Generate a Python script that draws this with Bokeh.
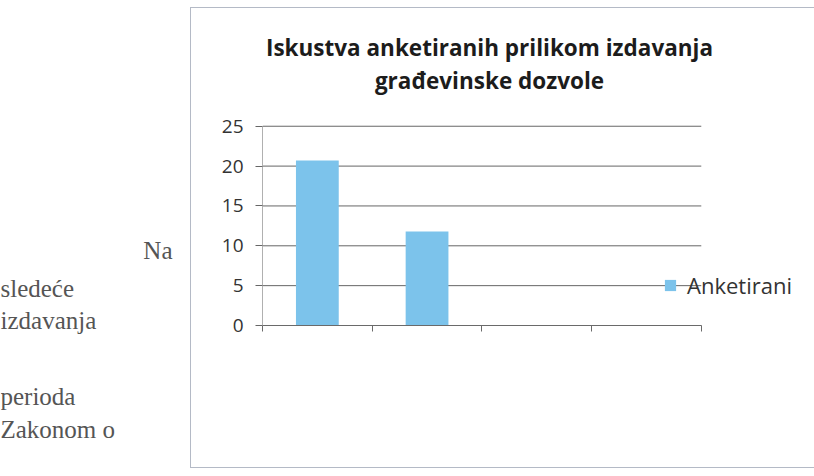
from bokeh.plotting import figure
from bokeh.models import Range1d, FixedTicker, Label, Legend, LegendItem, ColumnDataSource
from bokeh.layouts import row
from bokeh.embed import file_html
from bokeh.resources import INLINE

# ---- data ----
categories = ["", " ", "  ", "   "]
anketirani = [20.7, 11.8, 0, 0]
y_ticks = [0, 5, 10, 15, 20, 25]
y_max = 25
title_lines = ["Iskustva anketiranih prilikom izdavanja", "građevinske dozvole"]
side_text = ["Na", "sledeće", "izdavanja", "perioda", "Zakonom o"]

# ---- left page text ----
LW, LH = 190, 470
left = figure(width=LW, height=LH, output_backend="svg", toolbar_location=None,
              x_range=Range1d(0, 1), y_range=Range1d(0, 1),
              x_axis_type=None, y_axis_type=None,
              min_border=0, outline_line_color=None)
try:
    left.frame_align = False
except Exception:
    pass
left.grid.visible = False
left.scatter([0.5], [0.5], size=0, alpha=0)
side_pos = [(172, 220, "right"), (0, 182, "left"), (0, 150, "left"), (0, 74, "left"), (0, 41, "left")]
for t, (sx, sy, al) in zip(side_text, side_pos):
    left.add_layout(Label(x=sx, y=sy, x_units="screen", y_units="screen", text=t,
                          text_font="Liberation Serif", text_font_size="25px",
                          text_color="#555555", text_align=al, text_baseline="middle"))

# ---- chart ----
W, H = 624, 461
ML, MB = 71, 144          # left / bottom borders (px)
PLOT_W, PLOT_H = 438, 198  # pixel span of the category axis and of 0..25
frame_w = W - 1 - ML
frame_h = H - 2 - MB
n = len(categories)

x_pos = [i + 0.5 for i in range(n)]
src = ColumnDataSource(dict(x=x_pos, top=anketirani))
grid_src = ColumnDataSource(dict(y=y_ticks, x0=[0] * len(y_ticks), x1=[n] * len(y_ticks)))

p = figure(width=W, height=H, output_backend="svg", toolbar_location=None,
           x_range=Range1d(0, n * frame_w / PLOT_W), y_range=Range1d(0, y_max * frame_h / PLOT_H),
           min_border_left=ML, min_border_right=0, min_border_top=0, min_border_bottom=MB,
           outline_line_color=None, background_fill_color="white", border_fill_color="white",
           margin=(7, 0, 0, 0))
try:
    p.frame_align = False
except Exception:
    pass
p.styles = {"border-left": "1px solid #b4bac6", "border-top": "1px solid #b4bac6",
            "border-bottom": "1px solid #b4bac6", "box-sizing": "border-box"}
p.grid.visible = False

p.segment(x0="x0", x1="x1", y0="y", y1="y", source=grid_src, line_color="#666666", line_width=1)
r = p.vbar(x="x", top="top", width=0.39, source=src, fill_color="#7cc3eb", line_color=None)

p.yaxis.ticker = FixedTicker(ticks=y_ticks)
p.yaxis.bounds = (0, y_max)
p.yaxis.axis_line_color = "#b0b0b0"
p.yaxis.major_tick_line_color = "#666666"
p.yaxis.major_tick_out = 7
p.yaxis.major_tick_in = 0
p.yaxis.minor_tick_line_color = None
p.yaxis.major_label_text_font = "Open Sans"
p.yaxis.major_label_text_font_size = "19px"
p.yaxis.major_label_text_color = "#333333"
p.yaxis.major_label_standoff = 12

p.xaxis.ticker = FixedTicker(ticks=list(range(n + 1)))
p.xaxis.bounds = (0, n)
p.xaxis.major_label_overrides = {i: "" for i in range(n + 1)}
p.xaxis.axis_line_color = "#6a6a6a"
p.xaxis.major_tick_line_color = "#6a6a6a"
p.xaxis.major_tick_out = 6
p.xaxis.major_tick_in = 0
p.xaxis.minor_tick_line_color = None

for t, sy in zip(title_lines, [278, 245]):
    p.add_layout(Label(x=227, y=sy, x_units="screen", y_units="screen", text=t,
                       text_font="Open Sans", text_font_style="bold", text_font_size="22.5px",
                       text_color="#1c1c1c", text_align="center", text_baseline="middle"))

legend = Legend(items=[LegendItem(label="Anketirani", renderers=[r])],
                location=(401, 25), padding=0, margin=0, spacing=0,
                glyph_width=14, glyph_height=14, label_standoff=10, label_height=24,
                label_text_font="Open Sans", label_text_font_size="22px", label_text_color="#333333",
                background_fill_alpha=0, border_line_color=None)
p.add_layout(legend, "center")

layout = row(left, p)
open("out.html", "w").write(file_html(layout, INLINE))
